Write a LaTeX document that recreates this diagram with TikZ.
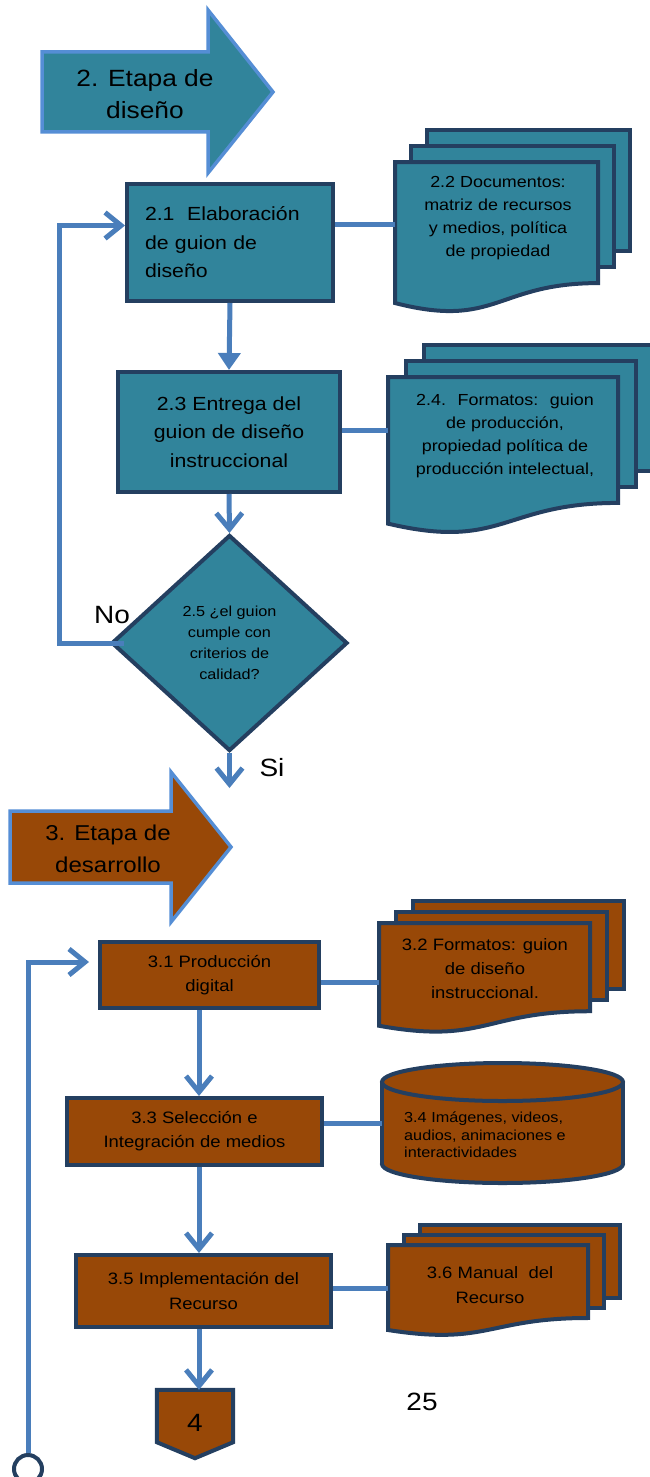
\documentclass[tikz,border=0pt]{standalone}
\usepackage{fontspec}
\setmainfont{Liberation Sans}[FakeStretch=1.12]
\usetikzlibrary{arrows.meta,shapes.geometric}

\definecolor{azulverde}{HTML}{31849B}
\definecolor{marino}{HTML}{243F60}
\definecolor{azullinea}{HTML}{4A7EBB}
\definecolor{azulclaro}{HTML}{558ED5}
\definecolor{cafe}{HTML}{984807}

% pila de documentos: relleno, izq, arriba, der, alto, dx, dy
\newcommand{\hojas}[7]{%
  \pgfmathsetmacro{\hojaYr}{#3+0.802*#5}%
  \pgfmathsetmacro{\hojaYl}{#3+0.934*#5}%
  \pgfmathsetmacro{\hojaYc}{#3+1.107*#5}%
  \pgfmathsetmacro{\hojaXm}{(#2+#4)/2}%
  \filldraw[hoja, fill=#1] ({#2+2*#6},{#3-2*#7}) rectangle ({#4+2*#6},{\hojaYr-2*#7});
  \filldraw[hoja, fill=#1] ({#2+#6},{#3-#7}) rectangle ({#4+#6},{\hojaYr-#7});
  \filldraw[hoja, fill=#1] (#2,#3) -- (#4,#3) -- (#4,\hojaYr)
    .. controls (\hojaXm,\hojaYr) and (\hojaXm,\hojaYc) .. (#2,\hojaYl) -- cycle;
}

\begin{document}
\begin{tikzpicture}[x=1pt, y=-1pt,
    caja/.style={draw=marino, line width=4pt, rectangle, inner sep=0pt, align=center},
    hoja/.style={draw=marino, line width=4pt},
    linea/.style={draw=azullinea, line width=5pt},
    punta/.style={-{Straight Barb[length=16pt,width=26pt]}},
    flechota/.style={draw=azulclaro, line width=3.5pt},
    texto/.style={inner sep=0pt, align=center}]
    \useasboundingbox (0,0) rectangle (650,1477);

    % 2. Etapa de diseño
    \filldraw[flechota, fill=azulverde] (42,52) -- (208,52) -- (208,10) -- (273,92)
        -- (208,173) -- (208,132) -- (42,132) -- cycle;
    \node[texto, font=\fontsize{23.5}{32}\selectfont] (etapa2) at (145,94) {2. Etapa de\\diseño};

    % cajas de la etapa 2
    \node[caja, fill=azulverde, minimum width=206pt, minimum height=117pt, text width=170pt,
        align=left, font=\fontsize{19}{28.5}\selectfont] (b21) at (230,242.5)
        {2.1~ Elaboración\\de guion de\\diseño};
    \node[caja, fill=azulverde, minimum width=222pt, minimum height=120pt,
        font=\fontsize{19}{28.5}\selectfont] (b23) at (229,432)
        {2.3 Entrega del\\guion de diseño\\instruccional};
    \node[caja, shape=diamond, fill=azulverde, minimum width=236pt, minimum height=216pt,
        font=\fontsize{14.5}{21}\selectfont] (d25) at (229.5,643)
        {2.5 ¿el guion\\cumple con\\criterios de\\calidad?};

    % documentos de la etapa 2
    \hojas{azulverde}{395}{162}{598}{151}{16}{16}
    \node[texto, font=\fontsize{16}{23}\selectfont] (t22) at (498,218)
        {2.2 Documentos:\\matriz de recursos\\y medios, política\\de propiedad};
    \hojas{azulverde}{388}{377}{618}{157}{18}{16}
    \node[texto, font=\fontsize{16}{23}\selectfont] (t24) at (505,436)
        {2.4.~ Formatos:~ guion\\de producción,\\propiedad política de\\producción intelectual,};
    \coordinate (d22) at (395,224);
    \coordinate (d24) at (388,430);

    % conectores de la etapa 2
    \draw[linea] (b21.east |- d22) -- (d22);
    \draw[linea] (b23.east |- d24) -- (d24);
    \draw[linea, -{Triangle[length=17pt,width=22pt]}] (b21.south) -- (b23.north);
    \draw[linea, punta] (b23.south) -- (d25.north);
    \draw[linea, punta] ([xshift=14pt]d25.west) -- ++(-64,0) |- ([yshift=17pt]b21.west);
    \coordinate (finSi) at (229.5,788);
    \draw[linea, punta] (d25.south) -- (finSi);
    \node[texto, font=\fontsize{25}{30}\selectfont] (no) at (112,615) {No};
    \node[texto, font=\fontsize{25}{30}\selectfont] (si) at (272,768) {Si};

    % 3. Etapa de desarrollo
    \filldraw[flechota, fill=cafe] (10,811) -- (171,811) -- (171,772) -- (231,847)
        -- (171,922) -- (171,883) -- (10,883) -- cycle;
    \node[texto, font=\fontsize{21.5}{32}\selectfont] (etapa3) at (108,849) {3. Etapa de\\desarrollo};

    % cajas de la etapa 3
    \node[caja, fill=cafe, minimum width=219pt, minimum height=66pt,
        font=\fontsize{16.5}{24}\selectfont] (b31) at (209.5,975) {3.1 Producción\\digital};
    \node[caja, fill=cafe, minimum width=255pt, minimum height=67pt,
        font=\fontsize{16.5}{24}\selectfont] (b33) at (194.5,1131.5) {3.3 Selección e\\Integración de medios};
    \node[caja, fill=cafe, minimum width=255pt, minimum height=72pt,
        font=\fontsize{16.5}{25}\selectfont] (b35) at (203.5,1291) {3.5 Implementación del\\Recurso};

    % documentos y base de datos de la etapa 3
    \hojas{cafe}{379}{923}{590}{110}{17}{11}
    \node[texto, font=\fontsize{16.5}{24}\selectfont] (t32) at (485,969)
        {3.2 Formatos: guion\\de diseño\\instruccional.};
    \filldraw[hoja, fill=cafe] (502.5,1164) ellipse [x radius=120.5, y radius=19];
    \fill[cafe] (382,1082) rectangle (623,1164);
    \draw[hoja] (382,1082) -- (382,1164);
    \draw[hoja] (623,1082) -- (623,1164);
    \filldraw[hoja, fill=cafe] (502.5,1082) ellipse [x radius=120.5, y radius=19];
    \node[texto, align=left, anchor=west, font=\fontsize{14.5}{17.5}\selectfont] (t34) at (404,1135)
        {3.4 Imágenes, videos,\\audios, animaciones e\\interactividades};
    \hojas{cafe}{388}{1245}{588}{91}{16}{10}
    \node[texto, font=\fontsize{16.5}{25}\selectfont] (t36) at (490,1285)
        {3.6 Manual~ del\\Recurso};
    \coordinate (d32) at (379,982);
    \coordinate (d34) at (382,1123);
    \coordinate (d36) at (388,1288);

    % conector de página
    \node[minimum width=76pt, minimum height=52pt, inner sep=0pt] (c4) at (195,1416) {};
    \filldraw[hoja, fill=cafe] (c4.north west) -- (c4.north east) -- (c4.south east)
        -- ([yshift=-16pt]c4.south) -- (c4.south west) -- cycle;
    \node[texto, font=\fontsize{25}{30}\selectfont] (n4) at (195,1423) {4};
    \node[texto, font=\fontsize{25}{30}\selectfont] (pagina) at (422,1401.5) {25};

    % conectores de la etapa 3
    \coordinate (eje3) at (199,0);
    \draw[linea] (b31.east |- d32) -- (d32);
    \draw[linea] (b33.east |- d34) -- (d34);
    \draw[linea] (b35.east |- d36) -- (d36);
    \draw[linea, punta] (b31.south -| eje3) -- (b33.north -| eje3);
    \draw[linea, punta] (b33.south -| eje3) -- (b35.north -| eje3);
    \draw[linea, punta] (b35.south -| eje3) -- (c4.north -| eje3);
    \node[circle, draw=marino, line width=4pt, fill=white, minimum size=28pt, inner sep=0pt]
        (fin) at (28,1469) {};
    \draw[linea, punta] (fin.north) |- ([xshift=-9pt,yshift=13pt]b31.west);
\end{tikzpicture}
\end{document}
